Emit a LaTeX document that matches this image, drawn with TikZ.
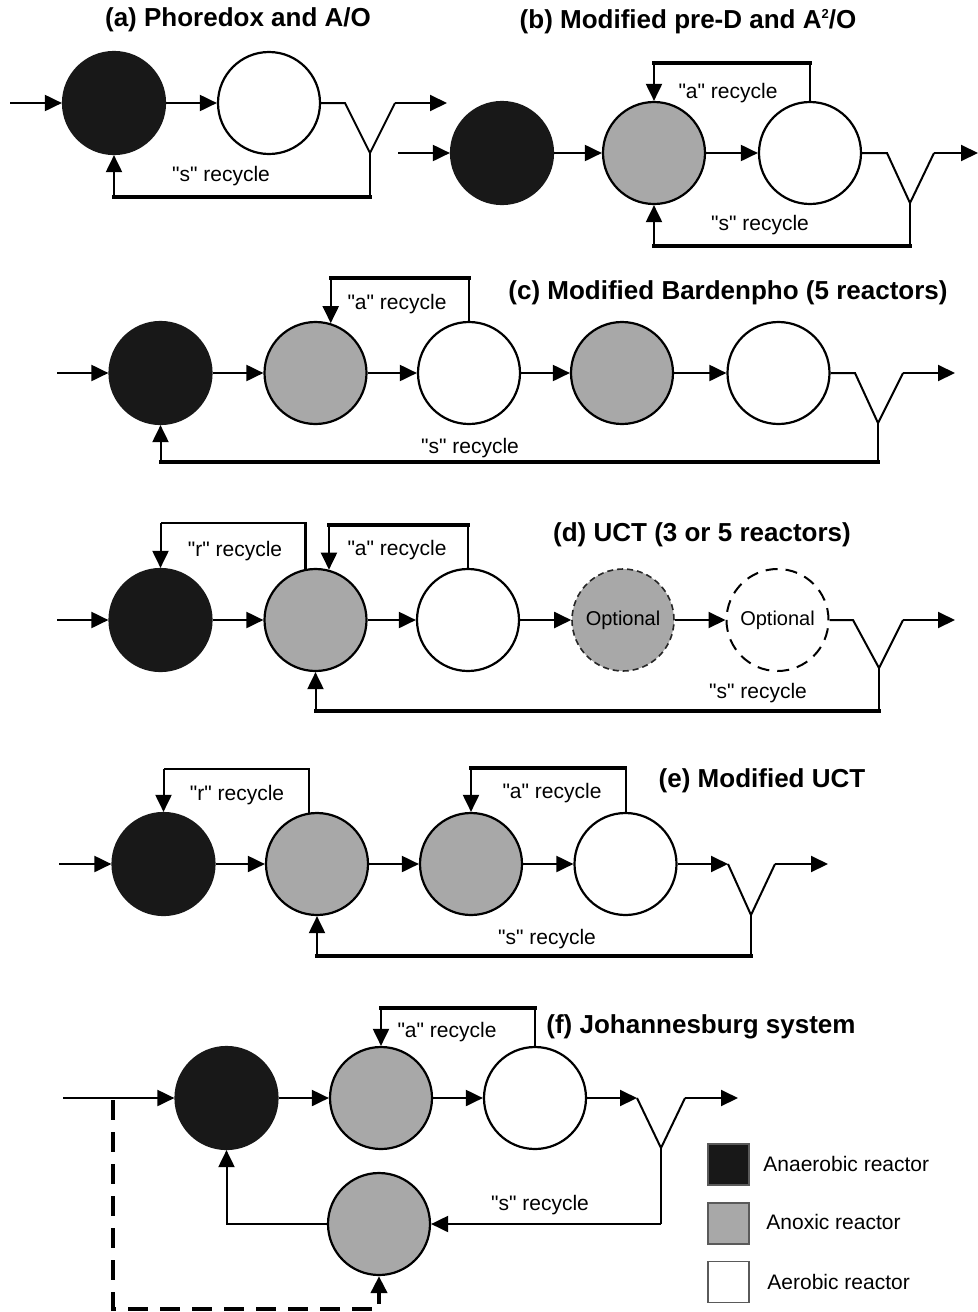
\documentclass[tikz,border=0pt]{standalone}
\usepackage{fontspec}
\setmainfont{Liberation Sans}
\usetikzlibrary{arrows.meta}
\definecolor{anaer}{RGB}{24,24,24}
\definecolor{anox}{RGB}{168,168,168}
\definecolor{legedge}{RGB}{90,90,90}
\newcommand{\recyc}[1]{\textquotedbl{}#1\textquotedbl{} recycle}
\begin{document}
\begin{tikzpicture}[x=0.5pt,y=-0.5pt,
  reactor/.style={circle,minimum size=51pt,inner sep=0pt,line width=1.1pt,draw=black},
  anaerobic/.style={reactor,fill=anaer,draw=anaer},
  anoxic/.style={reactor,fill=anox},
  aerobic/.style={reactor,fill=white},
  optanox/.style={reactor,fill=anox,draw=black!85,line width=0.8pt,dash pattern=on 3pt off 2pt,font=\fontsize{10pt}{12pt}\selectfont},
  optaer/.style={reactor,fill=white,line width=1pt,dash pattern=on 6pt off 4pt,font=\fontsize{10pt}{12pt}\selectfont},
  ln/.style={line width=1pt},
  rln/.style={line width=1.3pt},
  thk/.style={line width=1.75pt,line cap=rect},
  tip/.tip={Triangle[length=8.5pt,width=8pt]},
  arr/.style={ln,-tip},
  dsh/.style={line width=2pt,dash pattern=on 10pt off 6pt},
  lbl/.style={font=\fontsize{10.5pt}{12pt}\selectfont,inner sep=0pt},
  ttl/.style={font=\fontsize{13pt}{15pt}\selectfont\bfseries,inner sep=0pt},
  legbox/.style={minimum size=20.5pt,inner sep=0pt,draw=legedge,line width=0.6pt},
  legtxt/.style={lbl,anchor=west}]
\useasboundingbox (0,0) rectangle (978,1312);

% ---------------- (a)
\node[ttl] (ta) at (238,20) {(a) Phoredox and A/O};
\node[anaerobic] (a1) at (114,103) {};
\node[aerobic] (a2) at (269,103) {};
\coordinate (ain) at (10,103);
\coordinate (ac1) at (345,103);
\coordinate (acb) at (370,153);
\coordinate (ac2) at (395,103);
\coordinate (aout) at (447,103);
\coordinate (as1) at (370,197);
\coordinate (as2) at (114,197);
\draw[arr] (ain) -- (a1);
\draw[arr] (a1) -- (a2);
\draw[ln] (a2.east) -- (ac1) -- (acb) -- (ac2);
\draw[arr] (ac2) -- (aout);
\draw[ln] (acb) -- (as1);
\draw[thk] (as1) -- (as2);
\draw[arr] (as2) -- (a1.south);
\node[lbl] (la) at (221,176) {\recyc{s}};

% ---------------- (b)
\node[ttl] (tb) at (688,22) {(b) Modified pre-D and A\raisebox{0.75ex}{\fontsize{6.5pt}{7pt}\selectfont 2}/O};
\node[anaerobic] (b1) at (502,153) {};
\node[anoxic] (b2) at (654,153) {};
\node[aerobic] (b3) at (810,153) {};
\coordinate (bin) at (398,153);
\coordinate (bc1) at (887,153);
\coordinate (bcb) at (910,203);
\coordinate (bc2) at (934,153);
\coordinate (bout) at (978,153);
\coordinate (btop) at (0,63);
\coordinate (bs1) at (910,246);
\draw[arr] (bin) -- (b1);
\draw[arr] (b1) -- (b2);
\draw[arr] (b2) -- (b3);
\draw[ln] (b3.east) -- (bc1) -- (bcb) -- (bc2);
\draw[arr] (bc2) -- (bout);
\draw[ln] (b3.north) -- (b3.north |- btop);
\draw[thk] (b3.north |- btop) -- (b2.north |- btop);
\draw[arr] (b2.north |- btop) -- (b2.north);
\draw[ln] (bcb) -- (bs1);
\draw[thk] (bs1) -- (b2.south |- bs1);
\draw[arr] (b2.south |- bs1) -- (b2.south);
\node[lbl] (lba) at (728,93) {\recyc{a}};
\node[lbl] (lbs) at (760,225) {\recyc{s}};

% ---------------- (c)
\node[ttl] (tc) at (728,293) {(c) Modified Bardenpho (5 reactors)};
\node[anaerobic] (c1) at (160.5,373) {};
\node[anoxic] (c2) at (315.5,373) {};
\node[aerobic] (c3) at (469,373) {};
\node[anoxic] (c4) at (622,373) {};
\node[aerobic] (c5) at (778.5,373) {};
\coordinate (cin) at (57,373);
\coordinate (cc1) at (855,373);
\coordinate (ccb) at (878,423);
\coordinate (cc2) at (903,373);
\coordinate (cout) at (955,373);
\coordinate (ctop) at (0,278);
\coordinate (cs1) at (878,462);
\draw[arr] (cin) -- (c1);
\draw[arr] (c1) -- (c2);
\draw[arr] (c2) -- (c3);
\draw[arr] (c3) -- (c4);
\draw[arr] (c4) -- (c5);
\draw[ln] (c5.east) -- (cc1) -- (ccb) -- (cc2);
\draw[arr] (cc2) -- (cout);
\draw[ln] (c3.north) -- (c3.north |- ctop);
\draw[thk] (c3.north |- ctop) -- (c2.73 |- ctop);
\draw[arr] (c2.73 |- ctop) -- (c2.73);
\draw[ln] (ccb) -- (cs1);
\draw[thk] (cs1) -- (c1.south |- cs1);
\draw[arr] (c1.south |- cs1) -- (c1.south);
\node[lbl] (lca) at (397,304) {\recyc{a}};
\node[lbl] (lcs) at (470,448) {\recyc{s}};

% ---------------- (d)
\node[ttl] (td) at (702,535) {(d) UCT (3 or 5 reactors)};
\node[anaerobic] (d1) at (160.5,620) {};
\node[anoxic] (d2) at (315.5,620) {};
\node[aerobic] (d3) at (468,620) {};
\node[optanox] (d4) at (623,620) {Optional};
\node[optaer] (d5) at (777.5,620) {Optional};
\coordinate (din) at (57,620);
\coordinate (dc1) at (853,620);
\coordinate (dcb) at (879,668);
\coordinate (dc2) at (903,620);
\coordinate (dout) at (955,620);
\coordinate (drtop) at (0,523);
\coordinate (datop) at (0,525);
\coordinate (ds1) at (879,711);
\draw[arr] (din) -- (d1);
\draw[arr] (d1) -- (d2);
\draw[arr] (d2) -- (d3);
\draw[arr] (d3) -- (d4);
\draw[arr] (d4) -- (d5);
\draw[ln] (d5.east) -- (dc1) -- (dcb) -- (dc2);
\draw[arr] (dc2) -- (dout);
\draw[rln] (d2.101) -- (d2.101 |- drtop) -- (d1.north |- drtop);
\draw[arr] (d1.north |- drtop) -- (d1.north);
\draw[ln] (d3.north) -- (d3.north |- datop);
\draw[thk] (d3.north |- datop) -- (d2.75 |- datop);
\draw[arr] (d2.75 |- datop) -- (d2.75);
\draw[ln] (dcb) -- (ds1);
\draw[thk] (ds1) -- (d2.south |- ds1);
\draw[arr] (d2.south |- ds1) -- (d2.south);
\node[lbl] (ldr) at (235,551) {\recyc{r}};
\node[lbl] (lda) at (397,550) {\recyc{a}};
\node[lbl] (lds) at (758,693) {\recyc{s}};

% ---------------- (e)
\node[ttl] (te) at (762,781) {(e) Modified UCT};
\node[anaerobic] (e1) at (163.5,864) {};
\node[anoxic] (e2) at (317,864) {};
\node[anoxic] (e3) at (471,864) {};
\node[aerobic] (e4) at (625.5,864) {};
\coordinate (ein) at (59,864);
\coordinate (ec1) at (728,864);
\coordinate (ecb) at (751,915);
\coordinate (ec2) at (775,864);
\coordinate (eout) at (828,864);
\coordinate (ertop) at (0,769);
\coordinate (eatop) at (0,768);
\coordinate (es1) at (751,956);
\draw[arr] (ein) -- (e1);
\draw[arr] (e1) -- (e2);
\draw[arr] (e2) -- (e3);
\draw[arr] (e3) -- (e4);
\draw[arr] (e4.east) -- (ec1);
\draw[ln] (ec1) -- (ecb) -- (ec2);
\draw[arr] (ec2) -- (eout);
\draw[rln] (e2.99) -- (e2.99 |- ertop) -- (e1.north |- ertop);
\draw[arr] (e1.north |- ertop) -- (e1.north);
\draw[ln] (e4.north) -- (e4.north |- eatop);
\draw[thk] (e4.north |- eatop) -- (e3.north |- eatop);
\draw[arr] (e3.north |- eatop) -- (e3.north);
\draw[ln] (ecb) -- (es1);
\draw[thk] (es1) -- (e2.south |- es1);
\draw[arr] (e2.south |- es1) -- (e2.south);
\node[lbl] (ler) at (237,795) {\recyc{r}};
\node[lbl] (lea) at (552,793) {\recyc{a}};
\node[lbl] (les) at (547,939) {\recyc{s}};

% ---------------- (f)
\node[ttl] (tf) at (701,1027) {(f) Johannesburg system};
\node[anaerobic] (f1) at (226.5,1098) {};
\node[anoxic] (f2) at (381,1098) {};
\node[aerobic] (f3) at (535,1098) {};
\node[anoxic] (f4) at (379,1224) {};
\coordinate (fin) at (63,1098);
\coordinate (fc1) at (637,1098);
\coordinate (fcb) at (661,1148);
\coordinate (fc2) at (685,1098);
\coordinate (fout) at (738,1098);
\coordinate (fatop) at (0,1008);
\coordinate (fs1) at (661,1224);
\coordinate (fd0) at (113,1100);
\coordinate (fdb) at (0,1309);
\draw[arr] (fin) -- (f1);
\draw[arr] (f1) -- (f2);
\draw[arr] (f2) -- (f3);
\draw[arr] (f3.east) -- (fc1);
\draw[ln] (fc1) -- (fcb) -- (fc2);
\draw[arr] (fc2) -- (fout);
\draw[ln] (f3.north) -- (f3.north |- fatop);
\draw[thk] (f3.north |- fatop) -- (f2.north |- fatop);
\draw[arr] (f2.north |- fatop) -- (f2.north);
\draw[ln] (fcb) -- (fs1);
\draw[arr] (fs1) -- (f4.east);
\draw[arr] (f4.west) -| (f1.south);
\draw[dsh,-tip] (fd0) -- (fd0 |- fdb) -| (f4.south);
\node[lbl] (lfa) at (447,1032) {\recyc{a}};
\node[lbl] (lfs) at (540,1205) {\recyc{s}};

% ---------------- legend
\node[legbox,fill=anaer] (k1) at (728.5,1164.5) {};
\node[legbox,fill=anox] (k2) at (728.5,1223.5) {};
\node[legbox,fill=white] (k3) at (728.5,1282) {};
\node[legtxt] (kt1) at (763,1164) {Anaerobic reactor};
\node[legtxt] (kt2) at (766,1222) {Anoxic reactor};
\node[legtxt] (kt3) at (767,1282) {Aerobic reactor};
\end{tikzpicture}
\end{document}
